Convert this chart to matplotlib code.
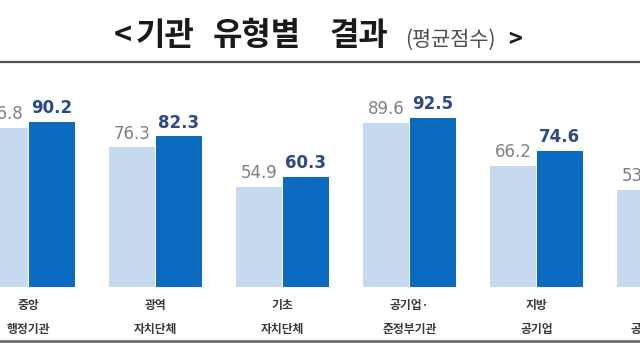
import matplotlib
matplotlib.use("Agg")
import matplotlib.pyplot as plt
import numpy as np
from matplotlib.lines import Line2D

plt.rcParams['font.family'] = ['Noto Sans CJK KR', 'DejaVu Sans']

categories = ["중앙\n행정기관", "광역\n자치단체", "기초\n자치단체", "공기업·\n준정부기관", "지방\n공기업", "기타\n공직유관단체"]
series_prev = [86.8, 76.3, 54.9, 89.6, 66.2, 53.0]
series_curr = [90.2, 82.3, 60.3, 92.5, 74.6, np.nan]

W, H = 640, 360
fig = plt.figure(figsize=(6.4, 3.6), dpi=100)
fig.patch.set_facecolor("white")

# axes: baseline at y=287px, top at 62px; group centers at 28.5 + 127*i px
base_px, top_px = 287, 62
ax = fig.add_axes([0, (H - base_px) / H, 1, (base_px - top_px) / H])
ax.set_xlim(-28.5 / 127, (W - 28.5) / 127)
ax.set_ylim(0, (base_px - top_px) / 1.829)
ax.axis("off")

x = np.arange(len(categories))
bw = 46 / 127
off = 23.3 / 127
light = "#C6D9EF"
dark = "#0B6BC1"
ax.bar(x - off, series_prev, width=bw, color=light, edgecolor="none")
ax.bar(x + off, series_curr, width=bw, color=dark, edgecolor="none")

for xi, v in zip(x, series_prev):
    if not np.isnan(v):
        ax.annotate(f"{v:.1f}", (xi - off, v), xytext=(0, 10), textcoords="offset points",
                    ha="center", va="center", fontsize=12, color="#808080",
                    family="DejaVu Sans", annotation_clip=False)
for xi, v in zip(x, series_curr):
    if not np.isnan(v):
        ax.annotate(f"{v:.1f}", (xi + off, v), xytext=(0, 10), textcoords="offset points",
                    ha="center", va="center", fontsize=12, color="#2E4A86",
                    fontweight="bold", family="DejaVu Sans", annotation_clip=False)

# category labels
for xi, lab in zip(x, categories):
    l1, l2 = lab.split("\n")
    xf = (28.5 + 127 * xi) / W
    fig.text(xf, 1 - 306 / H, l1, ha="center", va="center", fontsize=8.5,
             fontweight="bold", color="#3A3A3A")
    fig.text(xf, 1 - 329 / H, l2, ha="center", va="center", fontsize=8.5,
             fontweight="bold", color="#3A3A3A")

# horizontal rules
fig.add_artist(Line2D([0, 1], [1 - 61.5 / H, 1 - 61.5 / H], color="#505050", lw=1.6))
fig.add_artist(Line2D([0, 1], [1 - 340.5 / H, 1 - 340.5 / H], color="#707070", lw=2.0))

# title, word by word
title_words = [("<", 123, 22, "bold", "#1A1A1A", 36),
               ("기관", 165, 23, "bold", "#1A1A1A", 36),
               ("유형별", 257, 23, "bold", "#1A1A1A", 36),
               ("결과", 359, 23, "bold", "#1A1A1A", 36),
               ("(평균점수)", 450, 15, "normal", "#505050", 40),
               (">", 515, 17, "bold", "#1A1A1A", 40)]
for word, xc, fs, fw, col, yc in title_words:
    fig.text(xc / W, 1 - yc / H, word, ha="center", va="center",
             fontsize=fs, fontweight=fw, color=col)

fig.savefig("out.png", dpi=100)
